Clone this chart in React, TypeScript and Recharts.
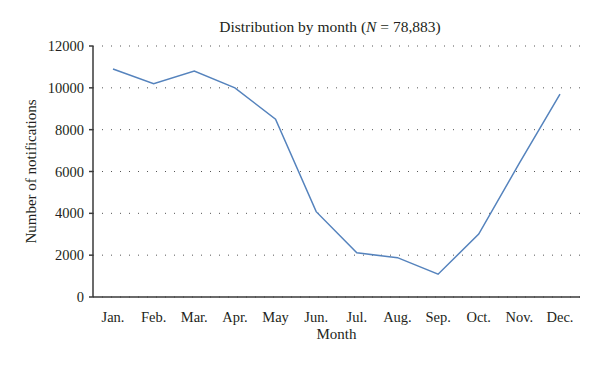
import React from "react";
import { LineChart, Line, XAxis, YAxis, CartesianGrid, Label } from "recharts";

const months = ["Jan.", "Feb.", "Mar.", "Apr.", "May", "Jun.", "Jul.", "Aug.", "Sep.", "Oct.", "Nov.", "Dec."];
const notifications = [10900, 10200, 10800, 10000, 8500, 4080, 2110, 1880, 1090, 3010, 6400, 9700];
const yTicks = [0, 2000, 4000, 6000, 8000, 10000, 12000];

const data = months.map((m, i) => ({ month: m, value: notifications[i] }));

const FONT = "'Liberation Serif', 'Times New Roman', serif";
const TEXT = "#231f20";

const YLabel = (props: any) => {
  const vb = props.viewBox || {};
  const cx = 31;
  const cy = vb.y + vb.height / 2;
  return (
    <text
      x={cx}
      y={cy}
      transform={`rotate(-90, ${cx}, ${cy})`}
      textAnchor="middle"
      dominantBaseline="central"
      fontFamily={FONT}
      fontSize={15}
      fill={TEXT}
    >
      Number of notifications
    </text>
  );
};

const XLabel = (props: any) => {
  const vb = props.viewBox || {};
  return (
    <text
      x={vb.x + vb.width / 2}
      y={334}
      textAnchor="middle"
      dominantBaseline="central"
      fontFamily={FONT}
      fontSize={15}
      fill={TEXT}
    >
      Month
    </text>
  );
};

export default function App() {
  return (
    <div style={{ position: "absolute", left: 0, top: 0, width: 600, height: 366, background: "#fff" }}>
      <div
        style={{
          position: "absolute",
          left: 0,
          width: 660,
          top: 17,
          textAlign: "center",
          fontFamily: FONT,
          fontSize: 15.5,
          color: TEXT,
          lineHeight: "20px",
        }}
      >
        Distribution by month (<i>N</i> = 78,883)
      </div>
      <LineChart
        width={600}
        height={366}
        data={data}
        margin={{ top: 46, right: 20, bottom: 39, left: 0 }}
      >
        <CartesianGrid vertical={false} stroke="#555" strokeDasharray="1 8" strokeWidth={1} />
        <XAxis
          dataKey="month"
          padding={{ left: 20, right: 20 }}
          tickLine={false}
          axisLine={{ stroke: "#3a3a3a", strokeWidth: 1.5 }}
          tick={{ fontFamily: FONT, fontSize: 14.5, fill: TEXT }}
          tickMargin={9}
          height={30}
          interval={0}
        >
          <Label content={<XLabel />} />
        </XAxis>
        <YAxis
          domain={[0, 12000]}
          ticks={yTicks}
          width={93}
          axisLine={{ stroke: "#3a3a3a", strokeWidth: 1.5 }}
          tickLine={{ stroke: "#3a3a3a", strokeWidth: 1.5 }}
          tickSize={4}
          tickMargin={5}
          tick={{ fontFamily: FONT, fontSize: 14.5, fill: TEXT }}
          interval={0}
        >
          <Label content={<YLabel />} />
        </YAxis>
        <Line
          type="linear"
          dataKey="value"
          stroke="#5583bd"
          strokeWidth={1.5}
          dot={false}
          isAnimationActive={false}
        />
      </LineChart>
    </div>
  );
}
